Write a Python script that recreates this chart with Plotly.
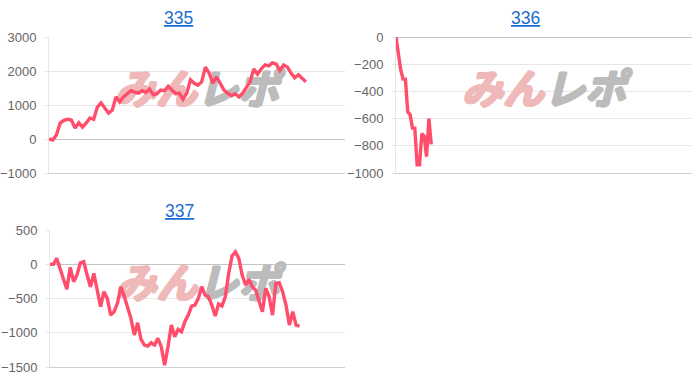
import plotly.graph_objects as go

titles = ["335", "336", "337"]

values_335 = [0, -30, 120, 470, 550, 580, 560, 320, 480, 350, 470, 620, 580, 940, 1060, 910,
              760, 850, 1240, 1090, 1240, 1330, 1420, 1380, 1350, 1420, 1370, 1470, 1300, 1330,
              1440, 1420, 1550, 1440, 1330, 1350, 1170, 1350, 1740, 1640, 1580, 1680, 2110, 1940,
              1640, 1830, 1650, 1440, 1350, 1270, 1330, 1240, 1350, 1530, 1680, 2060, 1910, 2060,
              2180, 2150, 2240, 2210, 2010, 2180, 2120, 1940, 1800, 1890, 1800, 1680]
values_336 = [0, -120, -240, -310, -310, -550, -570, -670, -670, -940, -940, -710, -730, -880,
              -600, -790]
values_337 = [0, 0, 86, -85, -220, -366, -45, -255, -158, 22, 37, -158, -328, -133, -377, -620,
              -401, -498, -742, -693, -571, -328, -464, -620, -790, -1033, -854, -1097, -1180,
              -1194, -1146, -1180, -1082, -1204, -1472, -1204, -888, -1058, -951, -985, -839,
              -742, -610, -596, -498, -328, -450, -474, -596, -756, -581, -610, -474, -133, 120,
              182, 86, -158, -304, -220, -328, -377, -523, -693, -352, -474, -742, -279, -270,
              -401, -596, -888, -693, -888, -902]

y_ranges = [[-1000, 3000], [-1000, 0], [-1500, 500]]
y_dticks = [1000, 200, 500]
x_ends = [79.5, 126, 87.5]

series = [values_335, values_336, values_337]

LINE = "#ff4d6b"
FONT = "Liberation Sans, Arial, sans-serif"
PINK = "#f0b9b9"
GRAY = "#bcbcbc"


def thick(c):
    return ", ".join(f"{dx}px {dy}px 0 {c}" for dx, dy in
                     [(1, 0), (-1, 0), (0, 1), (0, -1), (1, 1), (-1, -1), (1, -1), (-1, 1)])


fig = go.Figure()

doms_x = [[49 / 700, 345 / 700], [396 / 700, 692 / 700], [50 / 700, 345 / 700]]
doms_y = [[1 - 173 / 378, 1 - 37 / 378], [1 - 173 / 378, 1 - 37 / 378], [1 - 367 / 378, 1 - 230 / 378]]
title_pos = [(178 / 700, 1 - 18 / 378), (525 / 700, 1 - 18 / 378), (179 / 700, 1 - 211 / 378)]

for i, vals in enumerate(series):
    sfx = "" if i == 0 else str(i + 1)
    xa, ya = "x" + sfx, "y" + sfx
    r = y_ranges[i]
    # watermark (under the line)
    wy = r[0] + (r[1] - r[0]) * 0.58
    fig.add_trace(go.Scatter(
        x=[x_ends[i] * 0.5], y=[wy], mode="text", text=["みん"], textposition="middle left",
        textfont=dict(family="Noto Sans CJK JP", size=41, color=PINK, weight="bold",
                      style="italic", shadow=thick(PINK)),
        xaxis=xa, yaxis=ya, hoverinfo="skip", showlegend=False))
    fig.add_trace(go.Scatter(
        x=[x_ends[i] * 0.5], y=[wy], mode="text", text=["レポ"], textposition="middle right",
        textfont=dict(family="Noto Sans CJK JP", size=41, color=GRAY, weight="bold",
                      style="italic", shadow=thick(GRAY)),
        xaxis=xa, yaxis=ya, hoverinfo="skip", showlegend=False))
    fig.add_trace(go.Scatter(
        x=list(range(len(vals))), y=vals, mode="lines",
        line=dict(color=LINE, width=3.4), xaxis=xa, yaxis=ya, showlegend=False))

    fig.layout["xaxis" + sfx] = dict(
        domain=doms_x[i], anchor=ya, range=[0, x_ends[i]], showticklabels=False,
        showgrid=False, zeroline=False, showline=True, linecolor="#d0d0d0", linewidth=1,
        ticks="", fixedrange=True, automargin=False)
    fig.layout["yaxis" + sfx] = dict(
        domain=doms_y[i], anchor=xa, range=r, dtick=y_dticks[i], tick0=0,
        showgrid=True, gridcolor="#e6e6e6", gridwidth=1,
        zeroline=True, zerolinecolor="#c4c4c4", zerolinewidth=1,
        showline=True, linecolor="#e6e6e6", linewidth=1,
        ticks="outside", ticklen=3, tickcolor="#e6e6e6",
        tickfont=dict(family=FONT, size=13, color="#666666"),
        ticklabelstandoff=6, fixedrange=True, automargin=False)

    tx, ty = title_pos[i]
    fig.add_annotation(
        x=tx, y=ty, xref="paper", yref="paper", text="<u>" + titles[i] + "</u>",
        showarrow=False, xanchor="center", yanchor="middle",
        font=dict(family=FONT, size=17.5, color="#1a6bd0"))

fig.update_layout(
    width=700, height=378, margin=dict(l=0, r=0, t=0, b=0, autoexpand=False),
    paper_bgcolor="white", plot_bgcolor="white", showlegend=False)

fig.write_html("out.html")
